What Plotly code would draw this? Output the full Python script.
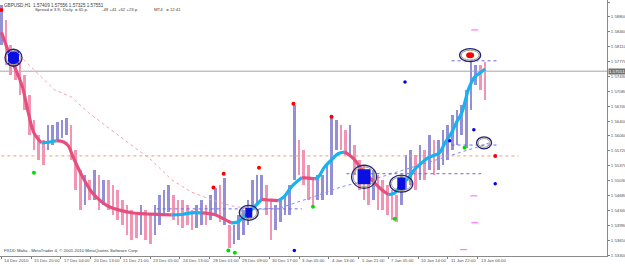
import plotly.graph_objects as go

# ---------------- data ----------------
bar_hours = list(range(0, 525, 5))          # bar time, hours since 14 Dec
bar_high = [1.5907,1.5873,1.5815,1.5804,1.5781,1.5746,1.5700,1.5643,1.5608,1.5597,
            1.5631,1.5631,1.5638,1.5643,1.5648,1.5631,1.5574,1.5528,1.5517,1.5505,
            1.5528,1.5517,1.5505,1.5505,1.5494,1.5482,1.5459,1.5448,1.5436,1.5425,
            1.5448,1.5436,1.5425,1.5448,1.5471,1.5482,1.5494,1.5471,1.5459,1.5459,
            1.5448,1.5436,1.5448,1.5459,1.5448,1.5471,1.5487,1.5494,1.5510,1.5402,
            1.5402,1.5425,1.5436,1.5459,1.5505,1.5517,1.5517,1.5494,1.5459,1.5448,
            1.5459,1.5471,1.5494,1.5677,1.5597,1.5574,1.5540,1.5505,1.5517,1.5517,
            1.5540,1.5654,1.5643,1.5631,1.5620,1.5631,1.5585,1.5551,1.5540,1.5517,
            1.5528,1.5517,1.5505,1.5494,1.5482,1.5471,1.5517,1.5562,1.5574,1.5562,
            1.5585,1.5574,1.5608,1.5597,1.5597,1.5620,1.5631,1.5654,1.5666,1.5677,
            1.5712,1.5776,1.5769,1.5769,1.5776]
bar_low = [1.5815,1.5769,1.5746,1.5735,1.5700,1.5666,1.5608,1.5574,1.5551,1.5540,
           1.5574,1.5585,1.5597,1.5602,1.5608,1.5551,1.5482,1.5436,1.5448,1.5459,
           1.5459,1.5436,1.5448,1.5436,1.5425,1.5413,1.5402,1.5379,1.5367,1.5372,
           1.5379,1.5367,1.5356,1.5379,1.5402,1.5425,1.5431,1.5413,1.5402,1.5395,
           1.5402,1.5390,1.5395,1.5402,1.5402,1.5413,1.5425,1.5408,1.5402,1.5349,
           1.5356,1.5367,1.5379,1.5402,1.5436,1.5448,1.5459,1.5425,1.5367,1.5390,
           1.5408,1.5425,1.5425,1.5505,1.5517,1.5494,1.5459,1.5443,1.5459,1.5459,
           1.5471,1.5471,1.5574,1.5574,1.5562,1.5562,1.5517,1.5482,1.5459,1.5448,
           1.5459,1.5436,1.5436,1.5425,1.5413,1.5408,1.5448,1.5482,1.5494,1.5482,
           1.5505,1.5505,1.5528,1.5517,1.5528,1.5540,1.5551,1.5574,1.5585,1.5608,
           1.5579,1.5666,1.5723,1.5712,1.5689]

ma_hours = [0,11,22,29,35,43,52,59,67,72,77,86,97,108,118,129,140,151,161,172,
            183,194,204,215,229,239,247,254,260,266,273,280,284,290,298,304,312,323,330,337,
            341,347,355,362,369,374,380,387,395,402,409,416,423,430,438,444,452,459,466,471,
            477,484,489,495,499,502,509,516,520]
ma_price = [1.5845,1.5781,1.5723,1.5659,1.5613,1.5590,1.5592,1.5595,1.5592,1.5583,
            1.5558,1.5517,1.5477,1.5454,1.5441,1.5434,1.5429,1.5427,1.5426,1.5425,
            1.5424,1.5425,1.5429,1.5429,1.5425,1.5415,1.5406,1.5408,1.5418,1.5429,
            1.5445,1.5460,1.5459,1.5458,1.5457,1.5466,1.5489,1.5510,1.5509,1.5507,
            1.5512,1.5533,1.5551,1.5565,1.5569,1.5562,1.5551,1.5530,1.5512,1.5496,
            1.5482,1.5471,1.5475,1.5494,1.5510,1.5528,1.5544,1.5556,1.5562,1.5567,
            1.5590,1.5613,1.5636,1.5659,1.5689,1.5712,1.5742,1.5753,1.5760]

slow_hours = [19,43,57,75,94,118,143,161,183,204,226,247,274,301,333,366,409,452,484,516,527]
slow_price = [1.5792,1.5742,1.5712,1.5696,1.5659,1.5620,1.5581,1.5551,1.5505,1.5477,1.5459,
              1.5445,1.5436,1.5441,1.5464,1.5489,1.5512,1.5540,1.5562,1.5583,1.5592]

level_price = [1.5560, 1.5438, 1.5779, 1.5585, 1.5519]
level_start = [0, 167, 484, 484, 371]
level_end = [556, 323, 534, 534, 516]
level_kind = ["orange", "blue", "blue", "blue", "blue"]

signal_hours = [13, 266, 390, 430, 504, 519]
signal_price = [1.5786, 1.5429, 1.5512, 1.5496, 1.5792, 1.5590]
signal_kind = ["buy", "buy", "buy", "buy", "sell", "none"]

red_dot_hours = [0, 228, 239, 277, 314, 355, 531]
red_dot_price = [1.5896, 1.5487, 1.5519, 1.5533, 1.5680, 1.5650, 1.5560]
green_dot_hours = [35, 244, 251, 335, 423, 498]
green_dot_price = [1.5521, 1.5342, 1.5337, 1.5443, 1.5415, 1.5579]
blue_dot_hours = [315, 434, 482, 508, 531]
blue_dot_price = [1.5342, 1.5730, 1.5595, 1.5620, 1.5496]
mag_dash_hours = [509, 508, 509, 497]
mag_dash_price = [1.5850, 1.5468, 1.5406, 1.5344]

tick_hours = [0, 32, 64, 96, 128, 160, 192, 224, 256, 288, 320, 352, 384, 416, 448, 480, 512]
tick_labels = ["14 Dec 2010", "15 Dec 20:00", "17 Dec 04:00", "20 Dec 13:00", "21 Dec 21:00",
               "23 Dec 05:00", "24 Dec 13:00", "28 Dec 01:00", "29 Dec 09:00", "30 Dec 17:00",
               "3 Jan 05:00", "4 Jan 13:00", "5 Jan 21:00", "7 Jan 05:00", "10 Jan 14:00",
               "11 Jan 22:00", "13 Jan 06:00"]
price_ticks = [1.59140, 1.58800, 1.58460, 1.58110, 1.57770, 1.57430, 1.57080, 1.56740, 1.56400,
               1.56060, 1.55720, 1.55370, 1.55030, 1.54680, 1.54340, 1.53990, 1.53650, 1.53300]
current_price = 1.57551
header_line1 = "GBPUSD,H1  1.57409 1.57556 1.57325 1.57551"
header_line2 = ["Spread = 3.9,", "Daily  = 65 p.", "-49 +41 +62 +23 p.", "MT4   = 12:41"]
copyright_text = "FXDD Malta - MetaTrader 4, \u00a9 2001-2010 MetaQuotes Software Corp."

# ---------------- styling ----------------
PLOT_W, PLOT_H = 607, 256
X_RANGE = [-1.5, PLOT_W / 0.93 - 1.5]
Y_RANGE = [1.53295, 1.5919]
HX = (X_RANGE[1] - X_RANGE[0]) / PLOT_W      # hours per pixel
PY = (Y_RANGE[1] - Y_RANGE[0]) / PLOT_H      # price per pixel
FONT = "Liberation Sans"
PINK, CYAN = "#e4507e", "#18b2ee"
BAR_UP, BAR_DN = "#9490d6", "#f294b4"

fig = go.Figure()


def runs(xs, ys):
    out = []
    cur = None
    for i in range(len(xs) - 1):
        up = ys[i + 1] >= ys[i]
        if cur is None or cur[0] != up:
            cur = [up, [xs[i]], [ys[i]]]
            out.append(cur)
        cur[1].append(xs[i + 1])
        cur[2].append(ys[i + 1])
    return out


# slow MA, dotted, pink when falling, blue when rising
for up, xs, ys in runs(slow_hours, slow_price):
    fig.add_trace(go.Scatter(x=xs, y=ys, mode="lines",
                             line=dict(color="#8c8ce8" if up else "#f2a2b6", width=1, dash="dot"),
                             hoverinfo="skip"))

# horizontal levels
for p, a, b, k in zip(level_price, level_start, level_end, level_kind):
    fig.add_trace(go.Scatter(x=[a, b], y=[p, p], mode="lines",
                             line=dict(color="#f0a070" if k == "orange" else "#6a6ae0", width=1, dash="dot"),
                             hoverinfo="skip"))

# price bars (high-low ranges)
colors = []
for i in range(len(bar_high)):
    mid = (bar_high[i] + bar_low[i]) / 2
    prev = (bar_high[i - 1] + bar_low[i - 1]) / 2 if i else mid
    colors.append(BAR_UP if mid >= prev else BAR_DN)
fig.add_trace(go.Bar(x=bar_hours, y=[h - l for h, l in zip(bar_high, bar_low)], base=bar_low,
                     width=2.9, marker=dict(color=colors, line=dict(width=0)), hoverinfo="skip"))

# thick smoothed MA
for up, xs, ys in runs(ma_hours, ma_price):
    fig.add_trace(go.Scatter(x=xs, y=ys, mode="lines",
                             line=dict(color=CYAN if up else PINK, width=3.2, shape="spline"),
                             hoverinfo="skip"))

# dots
fig.add_trace(go.Scatter(x=red_dot_hours, y=red_dot_price, mode="markers",
                         marker=dict(color="#ff0000", size=4), hoverinfo="skip"))
fig.add_trace(go.Scatter(x=green_dot_hours, y=green_dot_price, mode="markers",
                         marker=dict(color="#00dd00", size=4), hoverinfo="skip"))
fig.add_trace(go.Scatter(x=blue_dot_hours, y=blue_dot_price, mode="markers",
                         marker=dict(color="#0000ee", size=3.5), hoverinfo="skip"))
fig.add_trace(go.Scatter(x=mag_dash_hours, y=mag_dash_price, mode="markers",
                         marker=dict(symbol="line-ew", color="#ff60ff", size=5, line=dict(width=1, color="#ff60ff")),
                         hoverinfo="skip"))

# signal circles
ring_rx = [8.5, 9.5, 12.5, 11.5, 10.5, 7.5]
ring_ry = [8.5, 7.5, 11.5, 8.5, 6.5, 6.0]
fill_w = [11, 7, 13, 8, 8, 0]
fill_h = [13, 10, 15, 13, 6, 0]
shapes = []
for h, p, k, rx, ry, fw, fh in zip(signal_hours, signal_price, signal_kind, ring_rx, ring_ry, fill_w, fill_h):
    if k == "buy":
        shapes.append(dict(type="rect", xref="x", yref="y", x0=h - fw / 2 * HX, x1=h + fw / 2 * HX,
                           y0=p - fh / 2 * PY, y1=p + fh / 2 * PY, fillcolor="#0a10e0", line=dict(width=0)))
    elif k == "sell":
        shapes.append(dict(type="circle", xref="x", yref="y", x0=h - fw / 2 * HX, x1=h + fw / 2 * HX,
                           y0=p - fh / 2 * PY, y1=p + fh / 2 * PY, fillcolor="#ff0000", line=dict(width=0)))
    shapes.append(dict(type="circle", xref="x", yref="y", x0=h - (rx - 1.6) * HX, x1=h + (rx - 1.6) * HX,
                       y0=p - (ry - 1.6) * PY, y1=p + (ry - 1.6) * PY, line=dict(color="#a8a27a", width=1)))
    shapes.append(dict(type="circle", xref="x", yref="y", x0=h - rx * HX, x1=h + rx * HX,
                       y0=p - ry * PY, y1=p + ry * PY, line=dict(color="#23237a", width=1.3)))

# current price line
shapes.append(dict(type="line", xref="paper", yref="y", x0=0, x1=1, y0=current_price, y1=current_price,
                   line=dict(color="#a4a4a4", width=1), layer="below"))


def px(x):
    return x / PLOT_W


def py(y):
    return 1 - y / PLOT_H


small = dict(family=FONT, size=4.3, color="#404040")
annotations = [dict(text=header_line1, x=px(2), y=py(5))]
for t, xp in zip(header_line2, [33, 61, 100, 152]):
    annotations.append(dict(text=t, x=px(xp), y=py(9.5)))
annotations.append(dict(text=copyright_text, x=px(2), y=py(250)))
for a in annotations:
    a.update(xref="paper", yref="paper", xanchor="left", yanchor="middle", showarrow=False, font=small)
annotations[0]["font"] = dict(family=FONT, size=4.6, color="#404040")

# time labels, left-aligned at their tick
for h, t in zip(tick_hours, tick_labels):
    annotations.append(dict(text=t, xref="x", yref="paper", x=h, y=0, xanchor="left", yanchor="middle",
                            xshift=1, yshift=-4.2, showarrow=False,
                            font=dict(family=FONT, size=4.3, color="#505050")))

annotations.append(dict(text="%.5f" % current_price, xref="paper", yref="y", x=1, y=current_price,
                        xanchor="left", yanchor="middle", xshift=1, showarrow=False, bgcolor="#707070",
                        borderpad=0, font=dict(family=FONT, size=4.3, color="#ffffff")))

fig.update_layout(
    width=625, height=265, margin=dict(l=0, r=625 - PLOT_W, t=0, b=265 - PLOT_H),
    paper_bgcolor="white", plot_bgcolor="white", showlegend=False, bargap=0,
    shapes=shapes, annotations=annotations, template="none",
    xaxis=dict(range=X_RANGE, tickvals=tick_hours, showticklabels=False, ticks="outside", ticklen=2,
               tickcolor="#808080", showline=True, linecolor="#8a8a8a", linewidth=1, showgrid=False,
               zeroline=False, automargin=False),
    yaxis=dict(range=Y_RANGE, side="right", tickvals=price_ticks, tickformat=".5f", ticks="outside",
               ticklen=2, tickcolor="#808080", showline=True, linecolor="#8a8a8a", linewidth=1,
               showgrid=False, zeroline=False, automargin=False,
               tickfont=dict(family=FONT, size=4.3, color="#505050")),
)

fig.write_html("out.html")
